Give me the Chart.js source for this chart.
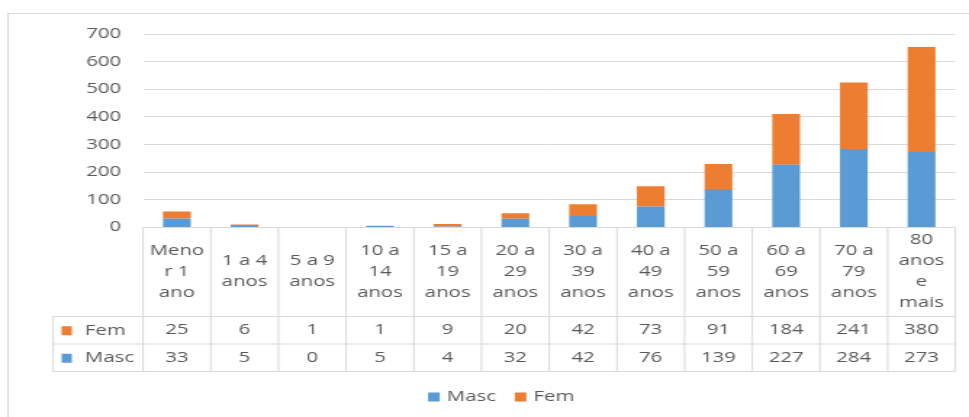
<!DOCTYPE html>
<html>
<head>
<meta charset="utf-8">
<script src="https://cdn.jsdelivr.net/npm/chart.js@4.4.1/dist/chart.umd.min.js"></script>
<style>
  html, body { margin: 0; padding: 0; background: #fff; overflow: hidden; }
  /* drawn narrow and widened by CSS, like the wide lettering of the sheet */
  #chart { display: block; width: 969px !important; height: 417px !important; }
</style>
</head>
<body>
<canvas id="chart" width="668" height="417"></canvas>
<script>
const faixas = [
  ["Meno", "r 1", "ano"],
  ["1 a 4", "anos"],
  ["5 a 9", "anos"],
  ["10 a", "14", "anos"],
  ["15 a", "19", "anos"],
  ["20 a", "29", "anos"],
  ["30 a", "39", "anos"],
  ["40 a", "49", "anos"],
  ["50 a", "59", "anos"],
  ["60 a", "69", "anos"],
  ["70 a", "79", "anos"],
  ["80", "anos", "e", "mais"]
];
const masc = [33, 5, 0, 5, 4, 32, 42, 76, 139, 227, 284, 273];
const fem  = [25, 6, 1, 1, 9, 20, 42, 73, 91, 184, 241, 380];
const yMax  = 700;
const yStep = 100;

const AZUL    = "#5b9bd5";
const LARANJA = "#ed7d31";
const TEXTO   = "#595959";
const LINHA   = "#d9d9d9";

Chart.defaults.font.family = "'Open Sans', sans-serif";
Chart.defaults.font.size = 14;
Chart.defaults.color = TEXTO;

// data table under the bars + legend at the bottom
const tabela = {
  id: "tabela",
  beforeDraw(chart) {
    const ctx = chart.ctx;
    ctx.save();
    ctx.fillStyle = "#fff";
    ctx.fillRect(0, 0, chart.width, chart.height);
    ctx.strokeStyle = LINHA;
    ctx.lineWidth = 1;
    ctx.strokeRect(5.5, 13.5, chart.width + 20, chart.height + 20);
    ctx.restore();
  },
  afterDraw(chart) {
    const { ctx, chartArea } = chart;
    const x = chart.scales.x;
    const n = faixas.length;
    const w = (x.right - x.left) / n;
    const top = chartArea.bottom;
    const headBottom = top + 89;
    const rowH = 27.5;
    const linhas = chart.data.datasets.slice().reverse();
    const bottom = headBottom + rowH * linhas.length;
    const colLeft = 36.6;

    ctx.save();
    ctx.strokeStyle = LINHA;
    ctx.lineWidth = 1;
    ctx.beginPath();
    ctx.moveTo(x.left, top);
    ctx.lineTo(x.right, top);
    for (let r = 0; r <= linhas.length; r++) {
      const y = headBottom + r * rowH;
      ctx.moveTo(colLeft, y);
      ctx.lineTo(x.right, y);
    }
    for (let i = 0; i <= n; i++) {
      const xx = x.left + i * w;
      ctx.moveTo(xx, top);
      ctx.lineTo(xx, bottom);
    }
    ctx.moveTo(colLeft, headBottom);
    ctx.lineTo(colLeft, bottom);
    ctx.stroke();

    ctx.fillStyle = TEXTO;
    ctx.font = "14px 'Open Sans', sans-serif";
    ctx.textAlign = "center";
    ctx.textBaseline = "middle";
    const lh = 21;
    faixas.forEach((lines, i) => {
      const cx = x.getPixelForValue(i);
      const y0 = (top + headBottom) / 2 - (lines.length - 1) * lh / 2;
      lines.forEach((t, k) => ctx.fillText(t, cx, y0 + k * lh));
    });

    linhas.forEach((ds, r) => {
      const cy = headBottom + r * rowH + rowH / 2;
      ctx.textAlign = "center";
      ctx.fillStyle = TEXTO;
      ds.data.forEach((v, i) => ctx.fillText(String(v), x.getPixelForValue(i), cy));
      ctx.fillStyle = ds.backgroundColor;
      ctx.fillRect(42.5, cy - 4, 7, 9);
      ctx.fillStyle = TEXTO;
      ctx.textAlign = "left";
      ctx.fillText(ds.label, 58.6, cy + 0.5);
    });

    // legend
    const itens = chart.data.datasets;
    const gap = 13, box = 8, pad = 5;
    const widths = itens.map(ds => ctx.measureText(ds.label).width);
    const total = widths.reduce((a, b) => a + b, 0) + itens.length * (box + pad) + gap * (itens.length - 1);
    let lx = 345.5 - total / 2;
    const ly = 397;
    itens.forEach((ds, k) => {
      ctx.fillStyle = ds.backgroundColor;
      ctx.fillRect(lx, ly - 4.5, box, 9);
      lx += box + pad;
      ctx.fillStyle = TEXTO;
      ctx.textAlign = "left";
      ctx.fillText(ds.label, lx, ly + 0.5);
      lx += widths[k] + gap;
    });
    ctx.restore();
  }
};

new Chart(document.getElementById("chart"), {
  type: "bar",
  data: {
    labels: faixas,
    datasets: [
      { label: "Masc", data: masc, backgroundColor: AZUL, borderWidth: 0 },
      { label: "Fem",  data: fem,  backgroundColor: LARANJA, borderWidth: 0 }
    ]
  },
  options: {
    responsive: false,
    animation: false,
    layout: { padding: { top: 34, right: 9.4, bottom: 45.5, left: 0 } },
    datasets: { bar: { categoryPercentage: 1, barPercentage: 0.41 } },
    plugins: { legend: { display: false }, tooltip: { enabled: false } },
    scales: {
      x: {
        stacked: true,
        grid: { display: false },
        border: { display: false },
        ticks: { display: false },
        afterFit(s) { s.height = 144; }
      },
      y: {
        stacked: true,
        min: 0,
        max: yMax,
        ticks: { stepSize: yStep, padding: 15, color: TEXTO },
        grid: { color: LINHA, drawTicks: false },
        border: { display: false },
        afterFit(s) { s.width = 98.6; }
      }
    }
  },
  plugins: [tabela]
});
</script>
</body>
</html>
